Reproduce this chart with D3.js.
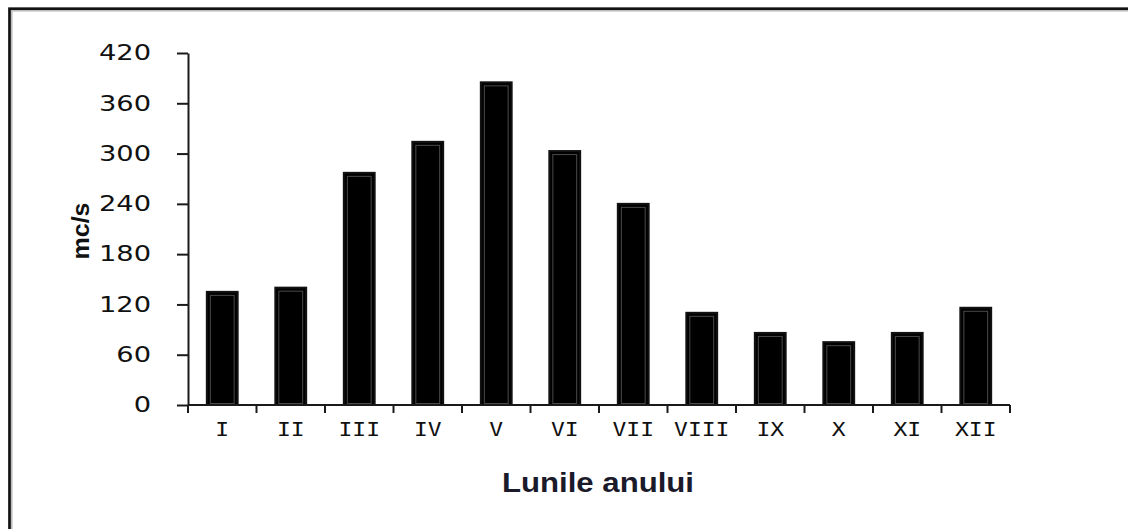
<!DOCTYPE html>
<html>
<head>
<meta charset="utf-8">
<script src="https://cdn.jsdelivr.net/npm/d3@7"></script>
<style>
  body { margin: 0; background: #fff; }
  .axis path, .axis line { stroke: #1a1a1a; stroke-width: 2; }
</style>
</head>
<body>
<svg id="chart" width="1128" height="529"></svg>
<script>
// data
var months = ["I", "II", "III", "IV", "V", "VI", "VII", "VIII", "IX", "X", "XI", "XII"];
var flow = [135, 140, 277, 314, 385, 303, 240, 110, 86, 75, 86, 116];
var yTicks = [0, 60, 120, 180, 240, 300, 360, 420];

var svg = d3.select("#chart");

// frame round the picture (right / bottom edges run off the image)
svg.append("rect")
  .attr("x", 9.5).attr("y", 8.7)
  .attr("width", 1300).attr("height", 700)
  .attr("fill", "none")
  .attr("stroke", "#111")
  .attr("stroke-width", 2.7);
svg.append("rect")
  .attr("x", 11.8).attr("y", 10.8)
  .attr("width", 1300).attr("height", 700)
  .attr("fill", "none")
  .attr("stroke", "#bbb")
  .attr("stroke-width", 1.5);

var plotLeft = 188, plotRight = 1010, plotTop = 53, plotBottom = 405;

var x = d3.scaleBand()
  .domain(months)
  .range([plotLeft, plotRight])
  .padding(0);

var y = d3.scaleLinear()
  .domain([0, 420])
  .range([plotBottom, plotTop]);

var barW = x.bandwidth() * 0.45;

// bars
var bars = svg.append("g").attr("class", "bars")
  .selectAll("g")
  .data(months)
  .enter()
  .append("g");

bars.append("rect")
  .attr("x", function(d) { return x(d) + (x.bandwidth() - barW) / 2; })
  .attr("y", function(d, i) { return y(flow[i]); })
  .attr("width", barW)
  .attr("height", function(d, i) { return y(0) - y(flow[i]); })
  .attr("fill", "#000")
  .attr("stroke", "#111")
  .attr("stroke-width", 2);

// faint inner line that the bars have
bars.append("rect")
  .attr("x", function(d) { return x(d) + (x.bandwidth() - barW) / 2 + 3.5; })
  .attr("y", function(d, i) { return y(flow[i]) + 3.5; })
  .attr("width", barW - 7)
  .attr("height", function(d, i) { return y(0) - y(flow[i]) - 5; })
  .attr("fill", "none")
  .attr("stroke", "#4a4a4a")
  .attr("stroke-width", 1);

// x axis, ticks at band edges
var xAxisG = svg.append("g")
  .attr("class", "axis")
  .attr("transform", "translate(0," + plotBottom + ")");

xAxisG.append("line")
  .attr("x1", plotLeft).attr("x2", plotRight)
  .attr("y1", 0).attr("y2", 0);

xAxisG.selectAll("line.tk")
  .data(months.concat(["end"]))
  .enter()
  .append("line")
  .attr("class", "tk")
  .attr("x1", function(d, i) { return i < months.length ? x(d) : plotRight; })
  .attr("x2", function(d, i) { return i < months.length ? x(d) : plotRight; })
  .attr("y1", 0).attr("y2", 8);

xAxisG.selectAll("text")
  .data(months)
  .enter()
  .append("text")
  .attr("transform", function(d) {
    return "translate(" + (x(d) + x.bandwidth() / 2) + ",31) scale(1.15,1)";
  })
  .attr("text-anchor", "middle")
  .style("font-family", "'DejaVu Sans Mono', monospace")
  .style("font-size", "20px")
  .attr("fill", "#111")
  .text(function(d) { return d; });

// y axis
var yAxisG = svg.append("g")
  .attr("class", "axis")
  .attr("transform", "translate(" + plotLeft + ",0)")
  .call(d3.axisLeft(y).tickValues(yTicks).tickSize(11).tickSizeOuter(0));

yAxisG.selectAll("text")
  .attr("x", -37 / 1.3)
  .attr("transform", "scale(1.3,1)")
  .style("font-family", "'DejaVu Sans', Verdana, sans-serif")
  .style("font-size", "21px")
  .attr("fill", "#111");

// axis titles
svg.append("text")
  .attr("transform", "translate(89,231) rotate(-90)")
  .attr("text-anchor", "middle")
  .attr("textLength", 57)
  .attr("lengthAdjust", "spacingAndGlyphs")
  .style("font-family", "'Liberation Sans', Arial, sans-serif")
  .style("font-weight", "bold")
  .style("font-size", "23px")
  .attr("fill", "#111")
  .text("mc/s");

svg.append("text")
  .attr("x", 598).attr("y", 492)
  .attr("text-anchor", "middle")
  .attr("textLength", 192)
  .attr("lengthAdjust", "spacingAndGlyphs")
  .style("font-family", "'Liberation Sans', Arial, sans-serif")
  .style("font-weight", "bold")
  .style("font-size", "28px")
  .attr("fill", "#1a1a2a")
  .text("Lunile anului");
</script>
</body>
</html>
